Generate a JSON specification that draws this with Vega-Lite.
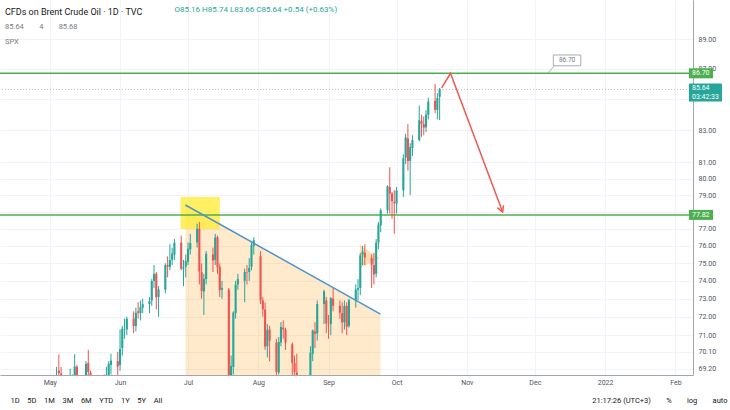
{
  "$schema": "https://vega.github.io/schema/vega-lite/v6.json",
  "width": 693,
  "height": 375,
  "autosize": {"type": "none"},
  "padding": {"left": 0, "top": 0, "right": 37, "bottom": 35},
  "background": "white",
  "title": {
    "text": "CFDs on Brent Crude Oil · 1D · TVC",
    "subtitle": ["85.64\u2003\u20034\u2003\u200385.68", "SPX"],
    "anchor": "start",
    "frame": "group",
    "offset": -45,
    "dx": 5,
    "fontSize": 9,
    "fontWeight": "normal",
    "color": "#131722",
    "subtitleFontSize": 7.5,
    "subtitleColor": "#787b86",
    "subtitlePadding": 6,
    "subtitleLineHeight": 15
  },
  "datasets": {
    "candles": [
      {"date": "2021-04-26", "open": 66.00, "high": 66.30, "low": 64.70, "close": 65.65},
      {"date": "2021-04-27", "open": 65.60, "high": 66.60, "low": 65.20, "close": 66.42},
      {"date": "2021-04-28", "open": 66.40, "high": 67.50, "low": 66.20, "close": 67.27},
      {"date": "2021-04-29", "open": 67.30, "high": 68.70, "low": 67.10, "close": 68.56},
      {"date": "2021-04-30", "open": 68.50, "high": 68.70, "low": 66.80, "close": 67.25},
      {"date": "2021-05-03", "open": 67.30, "high": 67.90, "low": 66.90, "close": 67.56},
      {"date": "2021-05-04", "open": 67.60, "high": 69.30, "low": 67.40, "close": 68.88},
      {"date": "2021-05-05", "open": 69.10, "high": 69.95, "low": 68.60, "close": 68.96},
      {"date": "2021-05-06", "open": 68.95, "high": 69.30, "low": 67.70, "close": 68.09},
      {"date": "2021-05-07", "open": 68.10, "high": 68.70, "low": 67.50, "close": 68.28},
      {"date": "2021-05-10", "open": 68.30, "high": 69.20, "low": 67.90, "close": 68.32},
      {"date": "2021-05-11", "open": 68.30, "high": 68.90, "low": 67.80, "close": 68.55},
      {"date": "2021-05-12", "open": 68.60, "high": 69.98, "low": 68.40, "close": 69.32},
      {"date": "2021-05-13", "open": 69.30, "high": 69.40, "low": 66.70, "close": 67.05},
      {"date": "2021-05-14", "open": 67.10, "high": 68.80, "low": 66.90, "close": 68.71},
      {"date": "2021-05-17", "open": 68.70, "high": 69.60, "low": 68.30, "close": 69.46},
      {"date": "2021-05-18", "open": 69.50, "high": 70.20, "low": 68.80, "close": 69.03},
      {"date": "2021-05-19", "open": 69.00, "high": 69.10, "low": 66.30, "close": 66.66},
      {"date": "2021-05-20", "open": 66.60, "high": 67.30, "low": 64.70, "close": 65.11},
      {"date": "2021-05-21", "open": 65.10, "high": 66.70, "low": 65.00, "close": 66.44},
      {"date": "2021-05-24", "open": 66.40, "high": 68.60, "low": 66.20, "close": 68.46},
      {"date": "2021-05-25", "open": 68.50, "high": 68.90, "low": 67.90, "close": 68.65},
      {"date": "2021-05-26", "open": 68.60, "high": 69.30, "low": 68.30, "close": 68.87},
      {"date": "2021-05-27", "open": 68.80, "high": 69.60, "low": 68.00, "close": 69.46},
      {"date": "2021-05-28", "open": 69.40, "high": 70.00, "low": 68.90, "close": 69.63},
      {"date": "2021-05-31", "open": 69.60, "high": 70.10, "low": 68.70, "close": 69.32},
      {"date": "2021-06-01", "open": 69.40, "high": 71.30, "low": 69.10, "close": 70.25},
      {"date": "2021-06-02", "open": 70.30, "high": 71.50, "low": 69.90, "close": 71.35},
      {"date": "2021-06-03", "open": 71.30, "high": 71.90, "low": 70.80, "close": 71.31},
      {"date": "2021-06-04", "open": 71.30, "high": 72.00, "low": 71.00, "close": 71.89},
      {"date": "2021-06-07", "open": 71.90, "high": 72.30, "low": 71.10, "close": 71.49},
      {"date": "2021-06-08", "open": 71.50, "high": 72.50, "low": 71.20, "close": 72.22},
      {"date": "2021-06-09", "open": 72.30, "high": 72.80, "low": 71.90, "close": 72.22},
      {"date": "2021-06-10", "open": 72.20, "high": 72.90, "low": 71.80, "close": 72.52},
      {"date": "2021-06-11", "open": 72.50, "high": 73.00, "low": 72.20, "close": 72.69},
      {"date": "2021-06-14", "open": 72.70, "high": 73.10, "low": 72.20, "close": 72.86},
      {"date": "2021-06-15", "open": 72.90, "high": 74.10, "low": 72.60, "close": 73.99},
      {"date": "2021-06-16", "open": 74.00, "high": 74.90, "low": 73.60, "close": 74.39},
      {"date": "2021-06-17", "open": 74.40, "high": 74.50, "low": 72.40, "close": 73.08},
      {"date": "2021-06-18", "open": 73.10, "high": 73.70, "low": 72.00, "close": 73.51},
      {"date": "2021-06-21", "open": 73.50, "high": 75.00, "low": 73.30, "close": 74.90},
      {"date": "2021-06-22", "open": 74.90, "high": 75.40, "low": 74.20, "close": 74.81},
      {"date": "2021-06-23", "open": 74.80, "high": 76.10, "low": 74.60, "close": 75.19},
      {"date": "2021-06-24", "open": 75.20, "high": 75.90, "low": 74.90, "close": 75.56},
      {"date": "2021-06-25", "open": 75.50, "high": 76.40, "low": 75.20, "close": 76.18},
      {"date": "2021-06-28", "open": 76.20, "high": 76.60, "low": 74.60, "close": 74.68},
      {"date": "2021-06-29", "open": 74.70, "high": 75.20, "low": 73.70, "close": 74.76},
      {"date": "2021-06-30", "open": 74.80, "high": 75.50, "low": 74.20, "close": 75.13},
      {"date": "2021-07-01", "open": 75.10, "high": 76.20, "low": 74.90, "close": 75.84},
      {"date": "2021-07-02", "open": 75.80, "high": 76.70, "low": 75.50, "close": 76.17},
      {"date": "2021-07-05", "open": 76.20, "high": 77.30, "low": 75.90, "close": 77.00},
      {"date": "2021-07-06", "open": 77.00, "high": 77.40, "low": 73.80, "close": 74.53},
      {"date": "2021-07-07", "open": 74.50, "high": 75.00, "low": 73.00, "close": 73.43},
      {"date": "2021-07-08", "open": 73.40, "high": 74.40, "low": 72.10, "close": 74.12},
      {"date": "2021-07-09", "open": 74.10, "high": 75.70, "low": 73.80, "close": 75.55},
      {"date": "2021-07-12", "open": 75.50, "high": 75.90, "low": 74.50, "close": 75.16},
      {"date": "2021-07-13", "open": 75.20, "high": 76.70, "low": 74.90, "close": 76.49},
      {"date": "2021-07-14", "open": 76.50, "high": 76.60, "low": 74.40, "close": 74.76},
      {"date": "2021-07-15", "open": 74.80, "high": 75.00, "low": 73.10, "close": 73.47},
      {"date": "2021-07-16", "open": 73.50, "high": 74.00, "low": 73.00, "close": 73.59},
      {"date": "2021-07-19", "open": 73.50, "high": 73.60, "low": 68.30, "close": 68.62},
      {"date": "2021-07-20", "open": 68.60, "high": 69.90, "low": 67.40, "close": 69.35},
      {"date": "2021-07-21", "open": 69.30, "high": 72.30, "low": 68.90, "close": 72.23},
      {"date": "2021-07-22", "open": 72.20, "high": 74.00, "low": 71.90, "close": 73.79},
      {"date": "2021-07-23", "open": 73.80, "high": 74.40, "low": 73.50, "close": 74.10},
      {"date": "2021-07-26", "open": 74.00, "high": 74.70, "low": 72.80, "close": 74.50},
      {"date": "2021-07-27", "open": 74.50, "high": 74.90, "low": 73.80, "close": 74.48},
      {"date": "2021-07-28", "open": 74.50, "high": 75.30, "low": 74.00, "close": 74.74},
      {"date": "2021-07-29", "open": 74.80, "high": 76.20, "low": 74.60, "close": 76.05},
      {"date": "2021-07-30", "open": 76.00, "high": 76.50, "low": 75.50, "close": 76.33},
      {"date": "2021-08-02", "open": 75.40, "high": 75.70, "low": 72.70, "close": 72.89},
      {"date": "2021-08-03", "open": 72.90, "high": 73.10, "low": 72.00, "close": 72.41},
      {"date": "2021-08-04", "open": 72.40, "high": 72.80, "low": 70.20, "close": 70.38},
      {"date": "2021-08-05", "open": 70.40, "high": 71.60, "low": 69.80, "close": 71.29},
      {"date": "2021-08-06", "open": 71.30, "high": 71.50, "low": 69.60, "close": 70.70},
      {"date": "2021-08-09", "open": 70.60, "high": 70.80, "low": 68.40, "close": 69.04},
      {"date": "2021-08-10", "open": 69.00, "high": 70.90, "low": 68.90, "close": 70.63},
      {"date": "2021-08-11", "open": 70.60, "high": 71.70, "low": 70.40, "close": 71.44},
      {"date": "2021-08-12", "open": 71.40, "high": 71.80, "low": 70.80, "close": 71.31},
      {"date": "2021-08-13", "open": 71.30, "high": 71.40, "low": 70.20, "close": 70.59},
      {"date": "2021-08-16", "open": 70.50, "high": 70.60, "low": 68.70, "close": 69.51},
      {"date": "2021-08-17", "open": 69.50, "high": 69.90, "low": 68.60, "close": 69.03},
      {"date": "2021-08-18", "open": 69.00, "high": 70.00, "low": 68.10, "close": 68.23},
      {"date": "2021-08-19", "open": 68.20, "high": 68.30, "low": 66.10, "close": 66.45},
      {"date": "2021-08-20", "open": 66.40, "high": 66.50, "low": 65.00, "close": 65.18},
      {"date": "2021-08-23", "open": 65.20, "high": 68.80, "low": 64.60, "close": 68.75},
      {"date": "2021-08-24", "open": 68.80, "high": 70.40, "low": 68.60, "close": 70.05},
      {"date": "2021-08-25", "open": 70.00, "high": 71.30, "low": 69.60, "close": 71.25},
      {"date": "2021-08-26", "open": 71.20, "high": 71.70, "low": 70.30, "close": 71.07},
      {"date": "2021-08-27", "open": 71.10, "high": 72.90, "low": 70.70, "close": 72.70},
      {"date": "2021-08-30", "open": 72.70, "high": 73.50, "low": 71.60, "close": 73.41},
      {"date": "2021-08-31", "open": 72.90, "high": 73.10, "low": 71.10, "close": 71.63},
      {"date": "2021-09-01", "open": 71.60, "high": 72.10, "low": 70.80, "close": 71.59},
      {"date": "2021-09-02", "open": 71.60, "high": 73.10, "low": 71.00, "close": 73.03},
      {"date": "2021-09-03", "open": 73.00, "high": 73.60, "low": 72.30, "close": 72.61},
      {"date": "2021-09-06", "open": 72.60, "high": 72.90, "low": 71.90, "close": 72.22},
      {"date": "2021-09-07", "open": 72.20, "high": 72.80, "low": 71.10, "close": 71.69},
      {"date": "2021-09-08", "open": 71.70, "high": 72.90, "low": 71.30, "close": 72.60},
      {"date": "2021-09-09", "open": 72.60, "high": 72.80, "low": 71.00, "close": 71.45},
      {"date": "2021-09-10", "open": 71.50, "high": 73.00, "low": 71.40, "close": 72.92},
      {"date": "2021-09-13", "open": 72.90, "high": 73.80, "low": 72.50, "close": 73.51},
      {"date": "2021-09-14", "open": 73.50, "high": 74.10, "low": 72.90, "close": 73.60},
      {"date": "2021-09-15", "open": 73.60, "high": 75.60, "low": 73.20, "close": 75.46},
      {"date": "2021-09-16", "open": 75.50, "high": 76.00, "low": 74.90, "close": 75.67},
      {"date": "2021-09-17", "open": 75.60, "high": 76.10, "low": 74.90, "close": 75.34},
      {"date": "2021-09-20", "open": 75.30, "high": 75.50, "low": 73.60, "close": 74.92},
      {"date": "2021-09-21", "open": 74.90, "high": 75.60, "low": 73.80, "close": 74.36},
      {"date": "2021-09-22", "open": 74.40, "high": 76.40, "low": 74.20, "close": 76.19},
      {"date": "2021-09-23", "open": 76.20, "high": 77.40, "low": 75.80, "close": 77.25},
      {"date": "2021-09-24", "open": 77.20, "high": 78.20, "low": 76.80, "close": 78.09},
      {"date": "2021-09-27", "open": 78.10, "high": 79.60, "low": 77.90, "close": 79.53},
      {"date": "2021-09-28", "open": 79.50, "high": 80.70, "low": 77.90, "close": 79.09},
      {"date": "2021-09-29", "open": 79.10, "high": 79.20, "low": 77.60, "close": 78.64},
      {"date": "2021-09-30", "open": 78.60, "high": 79.30, "low": 76.70, "close": 78.52},
      {"date": "2021-10-01", "open": 78.50, "high": 79.50, "low": 77.90, "close": 79.28},
      {"date": "2021-10-04", "open": 79.30, "high": 81.50, "low": 78.90, "close": 81.26},
      {"date": "2021-10-05", "open": 81.30, "high": 82.80, "low": 80.90, "close": 82.56},
      {"date": "2021-10-06", "open": 82.50, "high": 83.40, "low": 80.50, "close": 81.08},
      {"date": "2021-10-07", "open": 81.10, "high": 82.20, "low": 79.00, "close": 81.95},
      {"date": "2021-10-08", "open": 81.90, "high": 82.70, "low": 81.40, "close": 82.39},
      {"date": "2021-10-11", "open": 82.40, "high": 84.60, "low": 82.30, "close": 83.65},
      {"date": "2021-10-12", "open": 83.60, "high": 84.00, "low": 82.60, "close": 83.42},
      {"date": "2021-10-13", "open": 83.40, "high": 83.90, "low": 82.70, "close": 83.18},
      {"date": "2021-10-14", "open": 83.20, "high": 84.30, "low": 82.90, "close": 84.00},
      {"date": "2021-10-15", "open": 84.00, "high": 85.10, "low": 83.70, "close": 84.86},
      {"date": "2021-10-18", "open": 84.90, "high": 86.00, "low": 84.10, "close": 84.33},
      {"date": "2021-10-19", "open": 84.30, "high": 85.40, "low": 83.70, "close": 85.08},
      {"date": "2021-10-20", "open": 85.16, "high": 85.74, "low": 83.66, "close": 85.64}
    ],
    "levels": [{"price": 86.70}, {"price": 77.82}],
    "trend": [
      {"date": "2021-06-29T20:00:00Z", "price": 78.41},
      {"date": "2021-09-23T22:00:00Z", "price": 72.15}
    ],
    "pennant": [
      {"date": "2021-09-14T19:00:00Z", "top": 76.05, "bottom": 74.72},
      {"date": "2021-09-23T12:00:00Z", "top": 75.29, "bottom": 75.29}
    ],
    "box": [
      {"start": "2021-06-27T16:00:00Z", "end": "2021-07-15T01:00:00Z", "low": 76.99, "high": 78.89}
    ],
    "arrow": [
      {"date": "2021-10-20T21:00:00Z", "price": 85.73, "step": 1},
      {"date": "2021-10-24T19:00:00Z", "price": 86.70, "step": 2},
      {"date": "2021-11-16T19:00:00Z", "price": 77.99, "step": 3}
    ],
    "arrowTip": [{"date": "2021-11-16T19:00:00Z", "price": 77.99}],
    "calloutTail": [
      {"date": "2021-12-06T17:00:00Z", "price": 86.70},
      {"date": "2021-12-09T21:00:00Z", "price": 87.25}
    ],
    "callout": [{"date": "2021-12-15T05:00:00Z", "price": 87.56, "label": "86.70"}],
    "tags": [
      {"price": 86.70, "label": "86.70"},
      {"price": 77.82, "label": "77.82"}
    ],
    "last": [{"price": 85.64, "label": "85.64\n03:42:33"}],
    "ohlc": [{"label": "O85.16 H85.74 L83.66 C85.64 +0.54 (+0.63%)"}]
  },
  "layer": [
    {
      "data": {"name": "trend"},
      "mark": {"type": "area", "color": "#ff9800", "opacity": 0.2, "clip": true},
      "encoding": {
        "x": {
          "field": "date",
          "type": "temporal",
          "scale": {
            "type": "utc",
            "domain": [
              {"year": 2021, "month": 4, "date": 11, "hours": 6, "minutes": 14, "utc": true},
              {"year": 2022, "month": 2, "date": 6, "hours": 13, "minutes": 41, "utc": true}
            ]
          },
          "axis": {
            "orient": "bottom",
            "tickCount": {"interval": "month", "step": 1},
            "labelExpr": "utcmonth(datum.value) == 0 ? utcFormat(datum.value, '%Y') : utcFormat(datum.value, '%b')",
            "grid": true,
            "gridColor": "#f0f3fa",
            "ticks": false,
            "domainColor": "#a3a6af",
            "labelFontSize": 7,
            "labelColor": "#50535e",
            "labelPadding": 3,
            "title": "1D\u20035D\u20031M\u20033M\u20036M\u2003YTD\u20031Y\u20035Y\u2003All",
            "titleX": 10,
            "titleY": 25,
            "titleAlign": "left",
            "titleBaseline": "middle",
            "titleFontSize": 7.5,
            "titleFontWeight": "normal",
            "titleColor": "#131722"
          }
        },
        "y": {
          "field": "price",
          "type": "quantitative",
          "scale": {"type": "log", "domain": [68.87, 91.69], "nice": false, "zero": false},
          "axis": {
            "orient": "right",
            "values": [69.2, 70.1, 71, 72, 73, 74, 75, 76, 77, 78, 79, 80, 81, 83, 85, 87, 89],
            "format": ".2f",
            "labelExpr": "datum.value == 78 || datum.value == 85 ? '' : datum.label",
            "grid": true,
            "gridColor": "#f0f3fa",
            "ticks": false,
            "domainColor": "#a3a6af",
            "labelFontSize": 7,
            "labelColor": "#50535e",
            "labelPadding": 5,
            "title": "21:17:26 (UTC+3)\u2003\u2003%\u2003\u2003log\u2003\u2003auto",
            "titleAngle": 0,
            "titleX": 34,
            "titleY": 400,
            "titleAlign": "right",
            "titleBaseline": "middle",
            "titleFontSize": 7.5,
            "titleFontWeight": "normal",
            "titleColor": "#131722"
          }
        },
        "y2": {"datum": 60}
      }
    },
    {
      "data": {"name": "pennant"},
      "mark": {"type": "area", "color": "#ff9800", "opacity": 0.3},
      "encoding": {
        "x": {"field": "date", "type": "temporal"},
        "y": {"field": "top", "type": "quantitative"},
        "y2": {"field": "bottom"}
      }
    },
    {
      "data": {"name": "box"},
      "mark": {"type": "rect", "color": "#ffeb3b", "opacity": 0.8},
      "encoding": {
        "x": {"field": "start", "type": "temporal"},
        "x2": {"field": "end"},
        "y": {"field": "low", "type": "quantitative"},
        "y2": {"field": "high"}
      }
    },
    {
      "data": {"name": "levels"},
      "mark": {"type": "rule", "color": "#4caf50", "strokeWidth": 1.5},
      "encoding": {"y": {"field": "price", "type": "quantitative"}}
    },
    {
      "data": {"name": "last"},
      "mark": {"type": "rule", "color": "#9598a1", "strokeWidth": 1, "strokeDash": [1, 2], "opacity": 0.6},
      "encoding": {"y": {"field": "price", "type": "quantitative"}}
    },
    {
      "data": {"name": "candles"},
      "mark": {"type": "rule", "strokeWidth": 1, "clip": true},
      "encoding": {
        "x": {"field": "date", "type": "temporal"},
        "y": {"field": "low", "type": "quantitative"},
        "y2": {"field": "high"},
        "color": {
          "condition": {"test": "datum.close >= datum.open", "value": "#26a69a"},
          "value": "#ef5350"
        }
      }
    },
    {
      "data": {"name": "candles"},
      "mark": {"type": "bar", "width": 2.1, "clip": true},
      "encoding": {
        "x": {"field": "date", "type": "temporal"},
        "y": {"field": "open", "type": "quantitative"},
        "y2": {"field": "close"},
        "color": {
          "condition": {"test": "datum.close >= datum.open", "value": "#26a69a"},
          "value": "#ef5350"
        }
      }
    },
    {
      "data": {"name": "trend"},
      "mark": {"type": "line", "color": "#4f94cd", "strokeWidth": 1.5},
      "encoding": {
        "x": {"field": "date", "type": "temporal"},
        "y": {"field": "price", "type": "quantitative"}
      }
    },
    {
      "data": {"name": "arrow"},
      "mark": {"type": "line", "color": "#f05a4e", "strokeWidth": 1.5},
      "encoding": {
        "x": {"field": "date", "type": "temporal"},
        "y": {"field": "price", "type": "quantitative"},
        "order": {"field": "step"}
      }
    },
    {
      "data": {"name": "arrowTip"},
      "mark": {"type": "point", "shape": "M-0.55,-1L0,0L0.55,-1", "size": 144, "angle": -21, "filled": false, "color": "#f05a4e", "strokeWidth": 1.5, "opacity": 1},
      "encoding": {
        "x": {"field": "date", "type": "temporal"},
        "y": {"field": "price", "type": "quantitative"}
      }
    },
    {
      "data": {"name": "calloutTail"},
      "mark": {"type": "line", "color": "#9598a1", "strokeWidth": 0.8},
      "encoding": {
        "x": {"field": "date", "type": "temporal"},
        "y": {"field": "price", "type": "quantitative"}
      }
    },
    {
      "data": {"name": "callout"},
      "mark": {"type": "point", "shape": "M-1.37,-0.54H1.37V0.54H-1.37Z", "size": 400, "filled": true, "fill": "white", "stroke": "#9598a1", "strokeWidth": 0.8, "opacity": 1},
      "encoding": {
        "x": {"field": "date", "type": "temporal"},
        "y": {"field": "price", "type": "quantitative"}
      }
    },
    {
      "data": {"name": "callout"},
      "mark": {"type": "text", "fontSize": 6.5, "color": "#787b86", "baseline": "middle", "align": "center"},
      "encoding": {
        "x": {"field": "date", "type": "temporal"},
        "y": {"field": "price", "type": "quantitative"},
        "text": {"field": "label"}
      }
    },
    {
      "data": {"name": "tags"},
      "mark": {"type": "point", "shape": "M0,-0.5H2.4V0.5H0Z", "size": 400, "filled": true, "color": "#4caf50", "strokeWidth": 0, "opacity": 1},
      "encoding": {
        "x": {"datum": {"year": 2022, "month": 2, "date": 7, "utc": true}, "type": "temporal"},
        "y": {"field": "price", "type": "quantitative"}
      }
    },
    {
      "data": {"name": "tags"},
      "mark": {"type": "text", "fontSize": 7, "color": "white", "baseline": "middle", "align": "left", "dx": 3},
      "encoding": {
        "x": {"datum": {"year": 2022, "month": 2, "date": 7, "utc": true}, "type": "temporal"},
        "y": {"field": "price", "type": "quantitative"},
        "text": {"field": "label"}
      }
    },
    {
      "data": {"name": "last"},
      "mark": {"type": "point", "shape": "M0,-0.6H3.3V1.2H0Z", "size": 400, "filled": true, "color": "#26a69a", "strokeWidth": 0, "opacity": 1},
      "encoding": {
        "x": {"datum": {"year": 2022, "month": 2, "date": 7, "utc": true}, "type": "temporal"},
        "y": {"field": "price", "type": "quantitative"}
      }
    },
    {
      "data": {"name": "last"},
      "mark": {"type": "text", "fontSize": 7, "color": "white", "baseline": "top", "align": "left", "dx": 3, "dy": -5, "lineBreak": "\n", "lineHeight": 8.5},
      "encoding": {
        "x": {"datum": {"year": 2022, "month": 2, "date": 7, "utc": true}, "type": "temporal"},
        "y": {"field": "price", "type": "quantitative"},
        "text": {"field": "label"}
      }
    },
    {
      "data": {"name": "ohlc"},
      "mark": {"type": "text", "fontSize": 8, "color": "#26a69a", "baseline": "middle", "align": "left"},
      "encoding": {
        "x": {"datum": {"year": 2021, "month": 6, "date": 25, "hours": 1, "utc": true}, "type": "temporal"},
        "y": {"datum": 90.99, "type": "quantitative"},
        "text": {"field": "label"}
      }
    }
  ],
  "config": {
    "font": "Roboto",
    "view": {"stroke": null}
  }
}
